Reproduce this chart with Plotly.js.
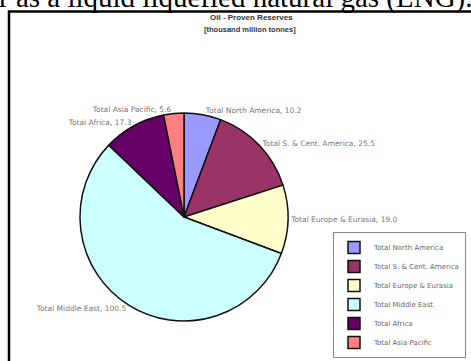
<!DOCTYPE html>
<html>
<head>
<meta charset="utf-8">
<script src="https://cdn.plot.ly/plotly-3.0.1.min.js"></script>
<style>html,body{margin:0;padding:0;background:#fff;}#chart{width:471px;height:361px;}</style>
</head>
<body>
<div id="chart"></div>
<script>
var regions = ["Total North America", "Total S. & Cent. America", "Total Europe & Eurasia", "Total Middle East", "Total Africa", "Total Asia Pacific"];
var reserves = [10.2, 25.5, 19.0, 100.5, 17.3, 5.6];
var sliceColors = ["#9999FF", "#993366", "#FFFFCC", "#CCFFFF", "#660066", "#FF8080"];
var chartTitle = "Oil - Proven Reserves";
var chartSubtitle = "[thousand million tonnes]";
var pageText = "r as a liquid liquefied natural gas (LNG).";

var W = 471, H = 361;
function px(x){return x / W;}
function py(y){return 1 - y / H;}

var trace = {
  type: "pie",
  labels: regions,
  values: reserves,
  sort: false,
  direction: "clockwise",
  rotation: 0,
  marker: {colors: sliceColors, line: {color: "#111", width: 1.5}},
  texttemplate: "%{label}, %{value:.1f}",
  textinfo: "text",
  textposition: "outside",
  outsidetextfont: {family: "DejaVu Sans, sans-serif", size: 7.5, color: "#777"},
  hoverinfo: "label+value",
  domain: {x: [px(80), px(288)], y: [py(321), py(113)]}
};

var layout = {
  width: W, height: H,
  margin: {l: 0, r: 0, t: 0, b: 0},
  paper_bgcolor: "#fff",
  showlegend: true,
  legend: {
    x: px(466), y: py(358), xanchor: "right", yanchor: "bottom",
    bgcolor: "#fff", bordercolor: "#888", borderwidth: 1,
    font: {family: "DejaVu Sans, sans-serif", size: 7, color: "#666"},
    itemwidth: 30, tracegroupgap: 0
  },
  shapes: [
    {type: "rect", xref: "paper", yref: "paper", x0: px(9), x1: px(475), y0: py(365), y1: py(11.5),
     line: {color: "#000", width: 2.5}}
  ],
  annotations: [
    {text: pageText, xref: "paper", yref: "paper", x: px(474), y: py(15), xanchor: "right", yanchor: "bottom",
     borderpad: 0, showarrow: false, font: {family: "Liberation Serif, Times New Roman, serif", size: 29, color: "#000"}},
    {text: "<b>" + chartTitle + "</b>", xref: "paper", yref: "paper", x: px(251), y: py(17.5), xanchor: "center", yanchor: "middle",
     showarrow: false, font: {family: "Arial, Liberation Sans, sans-serif", size: 8, color: "#333"}},
    {text: "<b>" + chartSubtitle + "</b>", xref: "paper", yref: "paper", x: px(250), y: py(29.5), xanchor: "center", yanchor: "middle",
     showarrow: false, font: {family: "Arial, Liberation Sans, sans-serif", size: 7.5, color: "#333"}}
  ]
};

Plotly.newPlot("chart", [trace], layout, {displayModeBar: false, staticPlot: true});
</script>
</body>
</html>
